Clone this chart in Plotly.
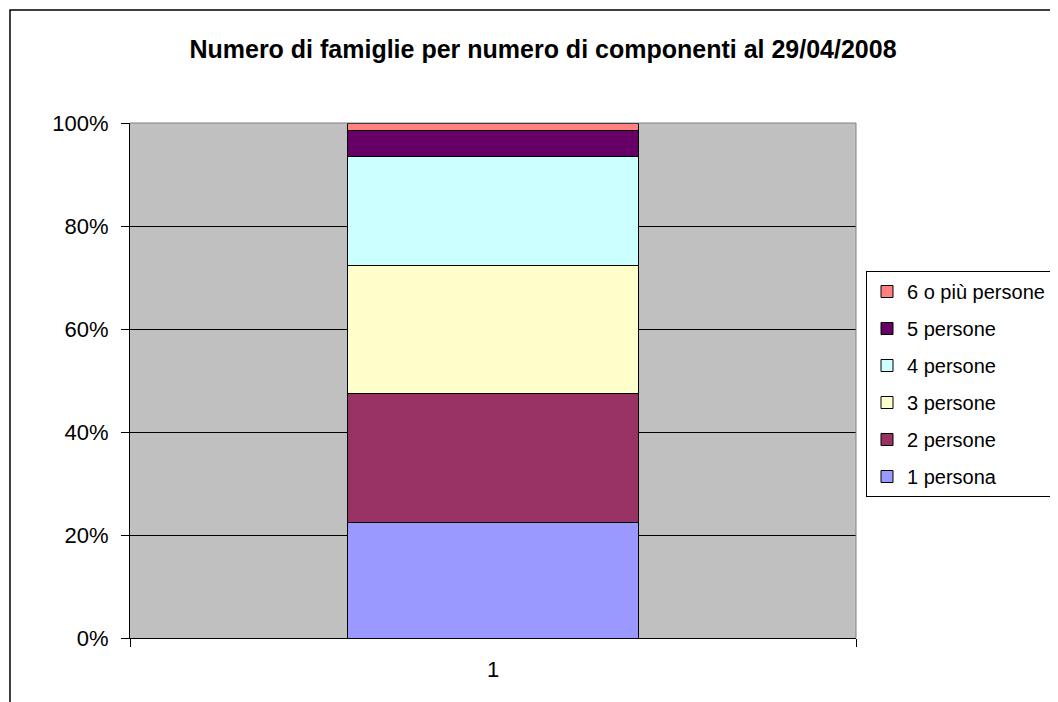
import plotly.graph_objects as go

categories = ["1"]
series_names = ["1 persona", "2 persone", "3 persone", "4 persone", "5 persone", "6 o più persone"]
series_values = [22.4, 25.1, 24.9, 21.1, 5.1, 1.4]
series_colors = ["#9999FF", "#993366", "#FFFFCC", "#CCFFFF", "#660066", "#FF8080"]
y_tickvals = [0, 20, 40, 60, 80, 100]
y_ticktext = ["0%", "20%", "40%", "60%", "80%", "100%"]

FONT = "Liberation Sans, Arial, sans-serif"

# page body has an 8px margin; size the figure so the plot lands where the reference has it
W, H = 1050, 694
ML, MR, MT, MB = 122, 202, 115, 64
PW, PH = W - ML - MR, H - MT - MB

fig = go.Figure()
n = len(series_names)
for i, (name, val, col) in enumerate(zip(series_names, series_values, series_colors)):
    fig.add_trace(go.Bar(
        x=categories, y=[val], name=name, legendgroup=name, legendrank=100 + (n - i),
        marker=dict(color=col, line=dict(color="black", width=1)),
    ))

fig.update_layout(
    width=W, height=H,
    barmode="stack", bargap=0.6,
    paper_bgcolor="white", plot_bgcolor="#C0C0C0",
    margin=dict(l=ML, r=MR, t=MT, b=MB, autoexpand=False),
    font=dict(family=FONT, color="black", size=22),
    title=dict(text="<b>Numero di famiglie per numero di componenti al 29/04/2008</b>",
               x=(543 - 8) / W, xanchor="center", y=1 - 41 / H, yanchor="middle",
               font=dict(family=FONT, size=25, color="black")),
    legend=dict(x=(866 - 8 - ML) / PW, xanchor="left", y=(MT + PH - (271 - 8)) / PH, yanchor="top",
                traceorder="grouped", tracegroupgap=8, entrywidth=170,
                bgcolor="white", bordercolor="black", borderwidth=1,
                font=dict(family=FONT, size=20, color="black")),
    xaxis=dict(type="category", showline=True, linecolor="black", linewidth=1,
               ticks="outside", tickson="boundaries", ticklen=8, tickcolor="black",
               showgrid=False, ticklabelstandoff=12, zeroline=False),
    yaxis=dict(range=[0, 100], tickvals=y_tickvals, ticktext=y_ticktext,
               showline=True, linecolor="black", linewidth=1,
               ticks="outside", ticklen=8, tickcolor="black",
               showgrid=True, gridcolor="black", gridwidth=1, zeroline=False,
               ticklabelstandoff=8),
    shapes=[
        dict(type="line", xref="paper", yref="paper", x0=0, x1=1, y0=1, y1=1,
             line=dict(color="#808080", width=1), layer="above"),
        dict(type="line", xref="paper", yref="paper", x0=1, x1=1, y0=0, y1=1,
             line=dict(color="#808080", width=1), layer="above"),
        dict(type="rect", xref="paper", yref="paper", x0=(2 - ML) / PW, x1=1.6,
             y0=-0.4, y1=(MT + PH - 2) / PH, line=dict(color="black", width=1.5),
             fillcolor="rgba(0,0,0,0)", layer="above"),
    ],
)

fig.write_html("out.html")
